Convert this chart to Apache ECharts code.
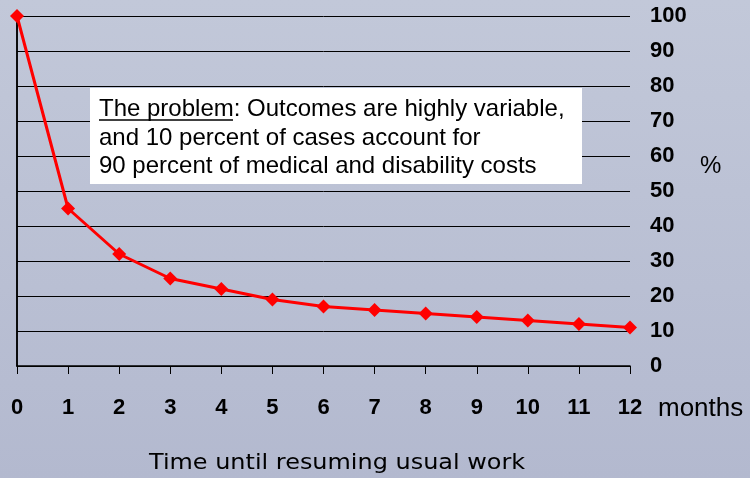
<!DOCTYPE html>
<html><head><meta charset="utf-8">
<script src="https://cdn.jsdelivr.net/npm/echarts@6/dist/echarts.min.js"></script>
<style>html,body{margin:0;padding:0;}#c{width:750px;height:478px;}</style>
</head><body><div id="c"></div>
<script>
var months = [0,1,2,3,4,5,6,7,8,9,10,11,12];
var percentValues = [100,45,32,25,22,19,17,16,15,14,13,12,11];
var yTicks = [0,10,20,30,40,50,60,70,80,90,100];

var chart = echarts.init(document.getElementById('c'));
var data = months.map(function(m,i){return [m, percentValues[i]];});
chart.setOption({
  animation:false,
  backgroundColor:{type:'linear',x:0,y:0,x2:0,y2:1,colorStops:[{offset:0,color:'#c2c8d9'},{offset:1,color:'#b3b9cf'}]},
  grid:{left:17,right:120,top:16,bottom:112},
  xAxis:{type:'value',min:0,max:12,interval:1,
    axisLine:{show:true,onZero:false,lineStyle:{color:'#000',width:1.5}},
    axisTick:{show:true,length:8,lineStyle:{color:'#000'}},
    splitLine:{show:false},
    axisLabel:{margin:31,fontFamily:'Liberation Sans, Arial',fontWeight:'bold',fontSize:22,color:'#000'}},
  yAxis:[{type:'value',position:'right',min:0,max:100,interval:10,
    axisLine:{show:true,lineStyle:{color:'#000',width:1.5}},
    axisTick:{show:true,length:8,lineStyle:{color:'#000'}},
    splitLine:{show:true,lineStyle:{color:'#000',width:1}},
    axisLabel:{margin:20,fontFamily:'Liberation Sans, Arial',fontWeight:'bold',fontSize:22,color:'#000',
      formatter:function(v){return yTicks.indexOf(v)>=0?String(v):'';}}},
    {type:'value',position:'left',min:0,max:100,interval:10,
    axisLine:{show:true,lineStyle:{color:'#000',width:1.5}},
    axisTick:{show:false},axisLabel:{show:false},splitLine:{show:false}}],
  series:[{type:'line',data:data,yAxisIndex:0,symbol:'diamond',symbolSize:14,z:3,
    lineStyle:{color:'#ff0000',width:3},itemStyle:{color:'#ff0000'}}],
  graphic:[
    {type:'rect',z:100,left:90,top:88,shape:{width:492,height:96},style:{fill:'#ffffff'}},
    {type:'text',z:101,left:99,top:95.5,style:{text:'The problem: Outcomes are highly variable,\nand 10 percent of cases account for\n90 percent of medical and disability costs',
      fontFamily:'Liberation Sans, Arial',fontSize:24,lineHeight:28.5,fill:'#000'}},
    {type:'line',z:101,shape:{x1:99,y1:120,x2:233,y2:120},style:{stroke:'#000',lineWidth:1.5}},
    {type:'text',left:658,top:396,style:{text:'months',fontFamily:'Liberation Sans, Arial',fontSize:26,fill:'#000'}},
    {type:'text',left:700,top:154,style:{text:'%',fontFamily:'Liberation Sans, Arial',fontSize:24,fill:'#000'}},
    {type:'text',x:149,y:453,scaleX:1.14,style:{text:'Time until resuming usual work',fontFamily:'DejaVu Sans, Verdana',fontSize:21,fill:'#000'}}
  ]
});
</script></body></html>
